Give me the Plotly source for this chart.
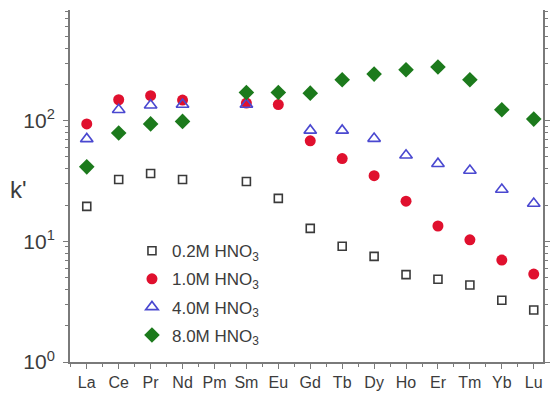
import plotly.graph_objects as go

# Lanthanide series on the x axis (Pm has no measurement)
elements = ["La", "Ce", "Pr", "Nd", "Pm", "Sm", "Eu", "Gd", "Tb", "Dy",
            "Ho", "Er", "Tm", "Yb", "Lu"]

# Retention factor k' at each nitric acid concentration
k_02M = [19.5, 32.5, 36.5, 32.5, None, 31.3, 22.7, 12.8, 9.1, 7.5,
         5.3, 4.85, 4.35, 3.25, 2.7]
k_10M = [94, 149, 161, 148, None, 140, 136, 68, 48.5, 35,
         21.5, 13.4, 10.3, 7.0, 5.35]
k_40M = [70.6, 123, 134, 136, None, 136, None, 83, 83, 71,
         51.7, 44, 38.6, 26.9, 20.6]
k_80M = [41.4, 79, 94, 98.6, None, 171, 171, 169, 218, 243,
         264, 278, 218, 123, 103]

series_names = ["0.2M HNO<sub>3</sub>", "1.0M HNO<sub>3</sub>",
                "4.0M HNO<sub>3</sub>", "8.0M HNO<sub>3</sub>"]

x_pos = list(range(len(elements)))

styles = [
    dict(symbol="square-open", size=8, color="#3a3a3a", line=dict(width=1.6, color="#3a3a3a")),
    dict(symbol="circle", size=11, color="#e0102e", line=dict(width=0)),
    dict(symbol="triangle-up-open", size=11, color="#4a48d0", line=dict(width=1.6, color="#4a48d0")),
    dict(symbol="diamond", size=12, color="#1c7a1c", line=dict(width=0)),
]

fig = go.Figure()
for name, vals, mk in zip(series_names, [k_02M, k_10M, k_40M, k_80M], styles):
    fig.add_trace(go.Scatter(
        x=x_pos, y=vals, mode="markers", name=name, marker=mk,
        legendgroup=name,
    ))

axis_color = "#7a7a7a"
font_color = "#3c3c3c"

fig.update_layout(
    width=553, height=394,
    margin=dict(l=70, r=3, t=10, b=31),
    paper_bgcolor="white", plot_bgcolor="white",
    font=dict(family="Liberation Sans, Arial, sans-serif", color=font_color),
    showlegend=True,
    legend=dict(
        x=0.131, y=0.366, xanchor="left", yanchor="top",
        bgcolor="rgba(255,255,255,0)", borderwidth=0,
        font=dict(size=17, color=font_color),
        traceorder="grouped", tracegroupgap=3,
        itemwidth=30,
    ),
    xaxis=dict(
        range=[-0.525, 14.29],
        tickmode="array", tickvals=x_pos, ticktext=elements,
        ticks="outside", ticklen=5, tickwidth=1.2, tickcolor=axis_color,
        minor=dict(ticks="outside", ticklen=3, tickwidth=1, tickcolor=axis_color,
                   tickmode="array", tickvals=[i + 0.5 for i in range(-1, 15)]),
        showline=True, linecolor=axis_color, linewidth=2,
        showgrid=False, zeroline=False,
        tickfont=dict(size=16, color=font_color),
        mirror=False,
    ),
    yaxis=dict(
        type="log", range=[0, 2.917],
        tickmode="array", tickvals=[1, 10, 100],
        ticktext=["10<sup>0</sup>", "10<sup>1</sup>", "10<sup>2</sup>"],
        ticks="outside", ticklen=5, tickwidth=1.2, tickcolor=axis_color,
        minor=dict(ticks="outside", ticklen=3, tickwidth=1, tickcolor=axis_color,
                   tickmode="array",
                   tickvals=[m * 10 ** e for e in range(0, 3) for m in range(2, 10)]),
        showline=True, linecolor=axis_color, linewidth=2,
        showgrid=False, zeroline=False, mirror="ticks",
        tickfont=dict(size=21, color=font_color),
        ticklabelstandoff=4,
    ),
    annotations=[dict(
        text="k'", xref="paper", yref="paper",
        x=-0.108, y=0.49, xanchor="center", yanchor="middle",
        showarrow=False, font=dict(size=24, color=font_color),
    )],
)

fig.write_html("out.html")
